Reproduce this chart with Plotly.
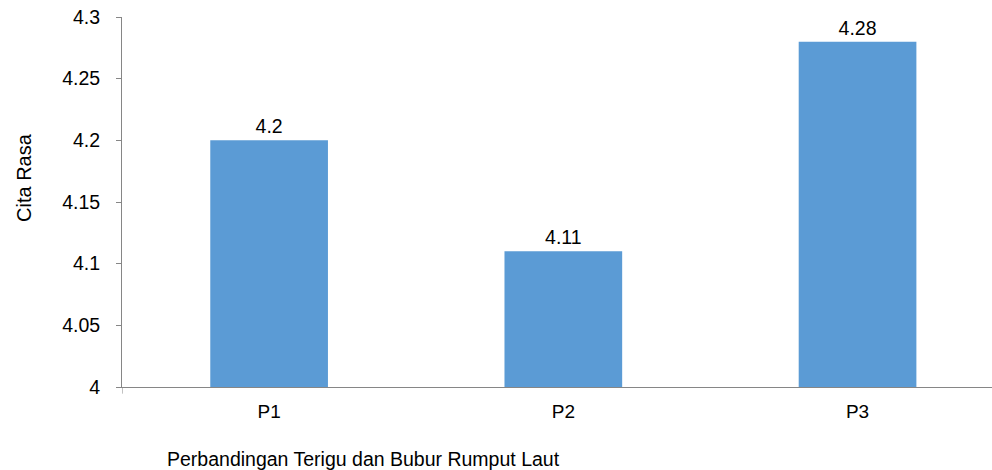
import plotly.graph_objects as go

categories = ["P1", "P2", "P3"]
values = [4.20, 4.11, 4.28]
value_labels = ["4.2", "4.11", "4.28"]
y_ticks = [4.0, 4.05, 4.1, 4.15, 4.2, 4.25, 4.3]
y_tick_labels = ["4", "4.05", "4.1", "4.15", "4.2", "4.25", "4.3"]

FONT = "Liberation Sans, Arial, sans-serif"
AXIS = "#868686"

fig = go.Figure(
    go.Bar(
        x=categories,
        y=values,
        text=value_labels,
        textposition="outside",
        textfont=dict(family=FONT, size=19.5, color="#000000"),
        marker=dict(color="#5B9BD5", line=dict(width=0)),
        cliponaxis=False,
        hoverinfo="skip",
    )
)

fig.update_layout(
    width=992,
    height=470,
    margin=dict(l=122, r=0, t=17, b=83),
    paper_bgcolor="white",
    plot_bgcolor="white",
    bargap=0.6,
    showlegend=False,
    font=dict(family=FONT, color="#000000"),
    xaxis=dict(
        type="category",
        range=[-0.5, 2.457],
        showline=True,
        linecolor=AXIS,
        linewidth=1,
        showgrid=False,
        ticks="",
        tickfont=dict(family=FONT, size=19, color="#000000"),
        ticklabelstandoff=7,
        zeroline=False,
    ),
    yaxis=dict(
        range=[4.0, 4.3],
        tickvals=y_ticks,
        ticktext=y_tick_labels,
        showline=True,
        linecolor=AXIS,
        linewidth=1,
        showgrid=False,
        zeroline=False,
        ticks="outside",
        ticklen=5,
        tickcolor=AXIS,
        tickfont=dict(family=FONT, size=19.5, color="#000000"),
        ticklabelstandoff=12,
    ),
    annotations=[
        dict(
            text="Cita Rasa",
            xref="paper", yref="paper",
            x=-0.1126, y=0.565,
            xanchor="center", yanchor="middle",
            textangle=-90,
            showarrow=False,
            font=dict(family=FONT, size=20, color="#000000"),
        ),
        dict(
            text="Perbandingan Terigu dan Bubur Rumput Laut",
            xref="paper", yref="paper",
            x=0.0494, y=-0.1946,
            xanchor="left", yanchor="middle",
            showarrow=False,
            font=dict(family=FONT, size=19.5, color="#000000"),
        ),
    ],
    shapes=[
        dict(
            type="line", xref="x", yref="paper",
            x0=-0.5, x1=-0.5, y0=0, y1=-0.018,
            line=dict(color=AXIS, width=1),
        )
    ],
)

fig.write_html("out.html")
